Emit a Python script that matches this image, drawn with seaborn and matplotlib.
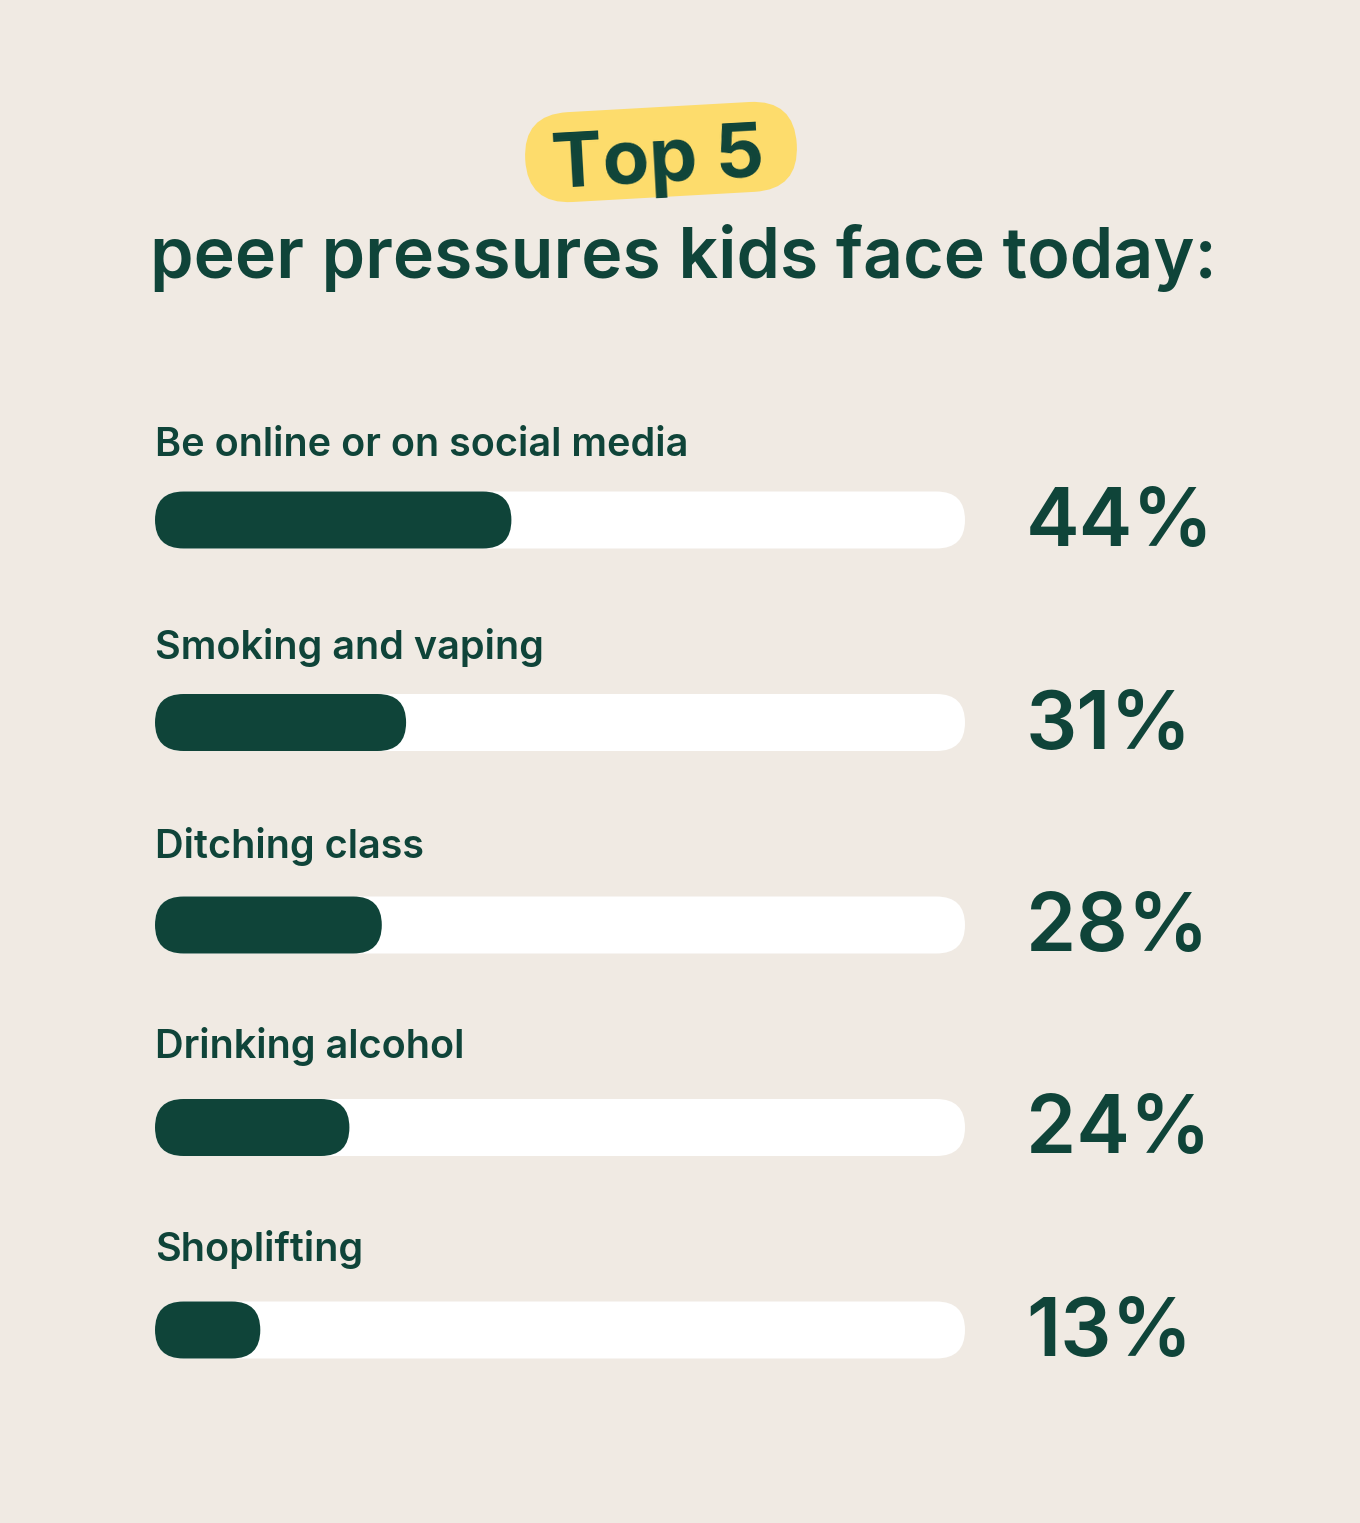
import matplotlib
matplotlib.use("Agg")
import matplotlib.pyplot as plt
import matplotlib.transforms as mtransforms
from matplotlib.patches import FancyBboxPatch
import seaborn as sns
import pandas as pd

categories = ["Be online or on social media", "Smoking and vaping", "Ditching class",
              "Drinking alcohol", "Shoplifting"]
values = [44, 31, 28, 24, 13]
value_labels = ["44%", "31%", "28%", "24%", "13%"]
track_max = [100, 100, 100, 100, 100]
title_badge = "Top 5"
subtitle = "peer pressures kids face today:"

BG = "#F0EAE3"
GREEN = "#0F4439"
YELLOW = "#FDDC6C"
WHITE = "#FFFFFF"

sns.set_theme(style="white")
plt.rcParams["font.family"] = ["Inter", "DejaVu Sans"]

W, H = 1360, 1523
fig = plt.figure(figsize=(W / 100, H / 100), dpi=100, facecolor=BG)

# canvas axes for header decorations (pixel coordinates)
cax = fig.add_axes([0, 0, 1, 1])
cax.set_xlim(0, W)
cax.set_ylim(H, 0)
cax.axis("off")
cax.set_facecolor(BG)

cx, cy = 661, 152
pw, ph = 272, 90
rot = mtransforms.Affine2D().rotate_deg_around(cx, cy, -3.2) + cax.transData
pill = FancyBboxPatch((cx - pw / 2, cy - ph / 2), pw, ph,
                      boxstyle=f"round,pad=0,rounding_size={ph/2}",
                      fc=YELLOW, ec="none", transform=rot)
cax.add_patch(pill)
cax.text(cx - 3, 182, title_badge, ha="center", va="baseline", fontsize=55,
         fontweight="bold", color=GREEN, rotation=3.2, rotation_mode="anchor",
         transform=rot)
cax.text(150, 278, subtitle, ha="left", va="baseline", fontsize=50.3,
         fontweight="semibold", color=GREEN)

# bar axes
left_px, right_px = 155, 965
top_px, bot_px = 420, 1430
spacing = (1330 - 520) / 4
ax = fig.add_axes([left_px / W, 1 - bot_px / H, (right_px - left_px) / W, (bot_px - top_px) / H])
ax.patch.set_alpha(0)
df = pd.DataFrame({"category": categories, "value": values, "track": track_max})
bar_h = 57 / spacing
sns.barplot(data=df, x="track", y="category", color=WHITE, width=bar_h, ax=ax, saturation=1)
sns.barplot(data=df, x="value", y="category", color=GREEN, width=bar_h, ax=ax, saturation=1)
ax.set_xlim(0, 100)
ax.set_ylim(4 + (bot_px - 1330) / spacing, -(520 - top_px) / spacing)
ax.axis("off")

px_per_x = (right_px - left_px) / 100
r_px = 28.5
rx = r_px / px_per_x
ry = r_px / spacing
for p in list(ax.patches):
    x0, y0, w, h = p.get_x(), p.get_y(), p.get_width(), p.get_height()
    fc = p.get_facecolor()
    p.remove()
    ax.add_patch(FancyBboxPatch((x0, y0), w, h,
                                boxstyle=f"round,pad=0,rounding_size={rx}",
                                mutation_aspect=ry / rx, fc=fc, ec="none", clip_on=False))

label_offsets = [64, 64, 67, 69, 69]
for i, (cat, lab) in enumerate(zip(categories, value_labels)):
    ax.text(0, i - label_offsets[i] / spacing, cat, ha="left", va="baseline", fontsize=28.5,
            fontweight="semibold", color=GREEN, clip_on=False)
    ax.text((1026 - left_px) / px_per_x, i + 26 / spacing, lab, ha="left", va="baseline",
            fontsize=58, fontweight="semibold", color=GREEN, clip_on=False)

fig.savefig("out.png", dpi=100, facecolor=BG)
